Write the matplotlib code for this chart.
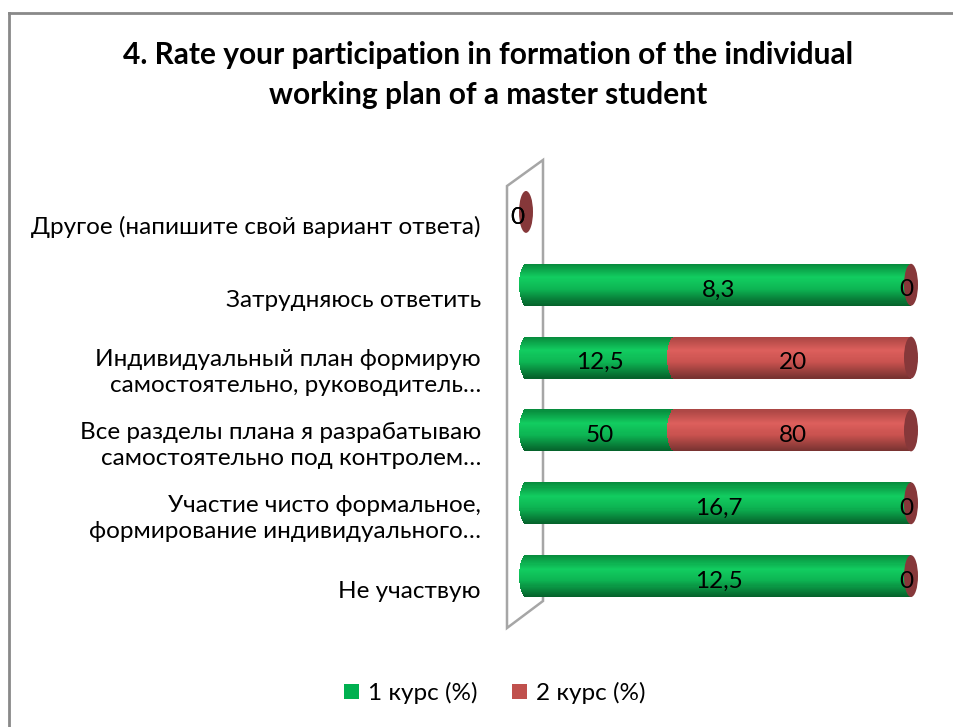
import numpy as np
import matplotlib
matplotlib.use("Agg")
import matplotlib.pyplot as plt
from matplotlib.patches import Polygon, Rectangle, Ellipse
from matplotlib.lines import Line2D
import matplotlib.colors as mcolors

plt.rcParams['font.family'] = ['Lato', 'DejaVu Sans']

# ---------------- data ----------------
title = "4. Rate your participation in formation of the individual\nworking plan of a master student"
categories = [
    "Другое (напишите свой вариант ответа)",
    "Затрудняюсь ответить",
    "Индивидуальный план формирую\nсамостоятельно, руководитель…",
    "Все разделы плана я разрабатываю\nсамостоятельно под контролем…",
    "Участие чисто формальное,\nформирование индивидуального…",
    "Не участвую",
]
course1 = [0, 8.3, 12.5, 50, 16.7, 12.5]
course2 = [0, 0, 20, 80, 0, 0]
series_names = ["1 курс (%)", "2 курс (%)"]

# ---------------- style ----------------
green_stops = ["#078a3c", "#12cd60", "#0db553", "#05602a"]
red_stops = ["#a94543", "#dd5f5c", "#c9524f", "#773230"]
cap_color = "#86383a"
legend_colors = ["#00B050", "#C0504D"]

def grad(stops, t):
    cmap = mcolors.LinearSegmentedColormap.from_list("g", list(zip([0, 0.33, 0.6, 1.0], stops)))
    return cmap(t)

W, H = 954, 727
fig = plt.figure(figsize=(W / 100, H / 100), dpi=100)

ax_left, ax_right = 526, 911
ax_top, ax_bot = 175.5, 612.5
ax = fig.add_axes([ax_left / W, 1 - ax_bot / H, (ax_right - ax_left) / W, (ax_bot - ax_top) / H])
ax.set_xlim(0, 100)
ax.set_ylim(len(categories) - 0.5, -0.5)
ax.axis('off')

px_per_unit = (ax_right - ax_left) / 100.0
cap_half = 7.0 / px_per_unit
bar_h = 0.575
nstrip = 40

def fx(px):
    return (px - ax_left) / (ax_right - ax_left)
def fy(py):
    return 1 - (py - ax_top) / (ax_bot - ax_top)
wall = Polygon([(fx(507), fy(186)), (fx(543), fy(160)), (fx(543), fy(601)), (fx(507), fy(628))],
               closed=True, transform=ax.transAxes, facecolor='white', edgecolor='#a6a6a6',
               linewidth=1.8, clip_on=False, zorder=1)
ax.add_patch(wall)

def draw_segment(yc, x0, x1, stops, left_cap=True):
    edges = np.linspace(-bar_h / 2, bar_h / 2, nstrip + 1)
    for k in range(nstrip):
        y0, y1 = edges[k], edges[k + 1]
        ym = (y0 + y1) / 2
        t = (ym + bar_h / 2) / bar_h
        col = grad(stops, t)
        ax.barh(yc + ym, x1 - x0, left=x0, height=(y1 - y0) * 1.05, color=col,
                linewidth=0, zorder=3, clip_on=False)
        if left_cap:
            r = np.sqrt(max(0.0, 1 - (2 * ym / bar_h) ** 2)) * cap_half
            ax.barh(yc + ym, r, left=x0 - r, height=(y1 - y0) * 1.05, color=col,
                    linewidth=0, zorder=3, clip_on=False)

def fmt(v):
    return ("%g" % v).replace('.', ',')

fs = 17.5
for i, (a, b) in enumerate(zip(course1, course2)):
    total = a + b
    s1 = a / total * 100 if total > 0 else 0
    s2 = b / total * 100 if total > 0 else 0
    if s1 > 0:
        draw_segment(i, 0, s1, green_stops)
    if s2 > 0:
        draw_segment(i, s1, s1 + s2, red_stops)
    end = s1 + s2
    ax.add_patch(Ellipse((end, i), 2 * cap_half, bar_h, facecolor=cap_color,
                         edgecolor='none', zorder=4, clip_on=False))
    lab_y = i + 0.07
    if total > 0:
        x_a = s1 / 2 if s1 > 0 else end - 1.3
        x_b = s1 + s2 / 2 if s2 > 0 else end - 1.3
    else:
        x_a = x_b = -2.2
    ax.text(x_a, lab_y, fmt(a), ha='center', va='center', fontsize=fs, color='black', zorder=6)
    ax.text(x_b, lab_y, fmt(b), ha='center', va='center', fontsize=fs, color='black', zorder=6)
    ax.text(fx(481), i + 0.21, categories[i], transform=ax.get_yaxis_transform(),
            ha='right', va='center', fontsize=fs, color='black', linespacing=1.3)

fig.text(488 / W, 1 - 75 / H, title, ha='center', va='center', fontsize=21.5,
         fontweight='bold', linespacing=1.55)

handles = [Rectangle((0, 0), 1, 1, facecolor=c, edgecolor='none') for c in legend_colors]
fig.legend(handles, series_names, loc='center', bbox_to_anchor=(495 / W, 1 - 693 / H),
           ncol=2, frameon=False, fontsize=fs, handlelength=0.6, handleheight=0.6,
           handletextpad=0.4, columnspacing=1.4)

fig.add_artist(Line2D([9 / W, 1], [1 - 13 / H, 1 - 13 / H], transform=fig.transFigure,
                      color='#898989', linewidth=2))
fig.add_artist(Line2D([9 / W, 9 / W], [0, 1 - 13 / H], transform=fig.transFigure,
                      color='#898989', linewidth=2))

fig.savefig("out.png", dpi=100, facecolor='white')
